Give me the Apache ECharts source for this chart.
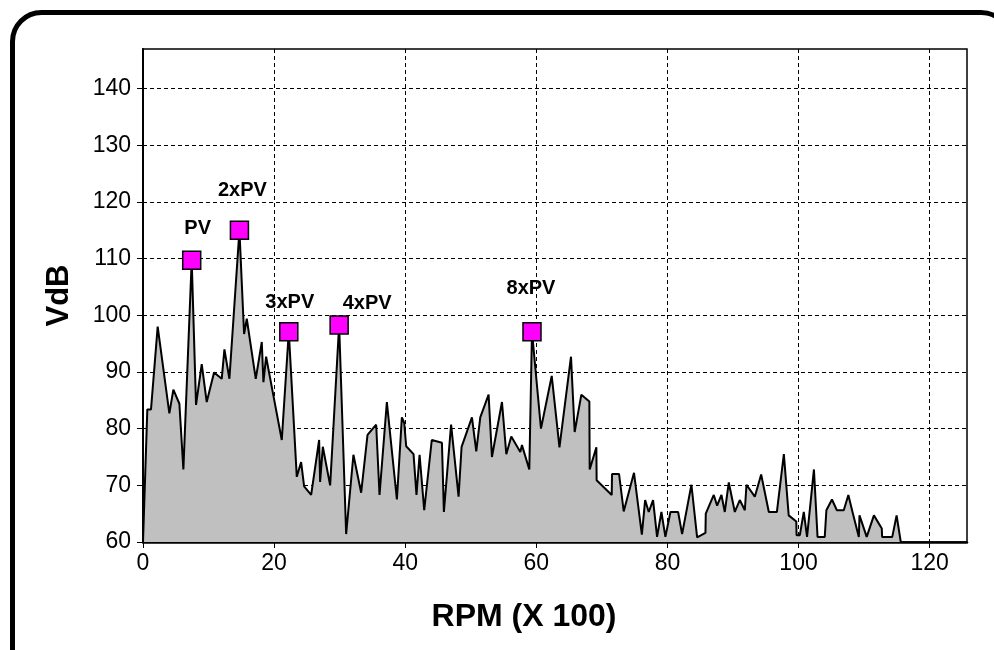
<!DOCTYPE html>
<html>
<head>
<meta charset="utf-8">
<title>Vibration spectrum</title>
<script src="https://cdn.jsdelivr.net/npm/echarts@6/dist/echarts.min.js"></script>
<style>
  html, body { margin: 0; padding: 0; background: #ffffff; }
  #chart { width: 994px; height: 650px; }
</style>
</head>
<body>
<div id="chart"></div>
<script>
// Spectrum vertices: running speed (RPM x 100) and velocity level (VdB)
const rpm = [
  0, 0.66, 1.22, 2.24, 4.02, 4.63, 5.55, 6.16, 7.43, 8.09,
  8.96, 9.72, 10.84, 12.01, 12.42, 13.18, 14.71, 15.42, 15.83, 17.2,
  18.12, 18.37, 18.78, 19.8, 21.17, 22.24, 23.46, 24.12, 24.58, 25.65,
  26.87, 27.02, 27.43, 28.55, 29.92, 30.99, 32.1, 33.28, 34.25, 35.57,
  36.08, 37.2, 38.73, 39.49, 39.85, 40.15, 41.27, 41.72, 42.19, 42.9,
  44.05, 45.6, 45.9, 47.0, 48.14, 48.6, 50.18, 50.84, 51.45, 52.72,
  53.23, 54.76, 55.42, 56.18, 57.56, 57.81, 58.93, 59.34, 60.71, 62.35,
  63.53, 65.29, 65.85, 66.87, 68.09, 68.14, 69.16, 69.2, 71.5, 71.55,
  72.62, 73.33, 74.9, 76.1, 76.6, 77.15, 77.81, 78.42, 79.08, 79.69,
  80.46, 81.63, 82.24, 83.66, 84.53, 85.8, 85.85, 87.07, 87.58, 88.24,
  88.75, 89.36, 90.28, 91.04, 91.81, 92.06, 93.33, 94.3, 95.47, 96.7,
  97.76, 98.5, 99.66, 99.7, 100.2, 100.8, 101.3, 102.35, 102.9, 104.0,
  104.25, 105.1, 105.85, 106.9, 107.6, 108.3, 109.2, 109.3, 110.4, 111.5,
  112.7, 112.75, 114.3, 114.96, 115.6
];
const vdb = [
  60, 83.4, 83.4, 98.0, 82.7, 86.9, 84.4, 72.8, 109.7, 84.2,
  91.4, 84.7, 89.9, 88.8, 94.0, 88.8, 115.0, 96.7, 99.4, 88.8,
  95.3, 88.2, 92.7, 86.4, 78.0, 97.1, 71.5, 74.1, 69.8, 68.3,
  78.0, 70.6, 76.8, 70.0, 98.3, 61.4, 75.4, 68.7, 78.9, 80.7,
  68.3, 84.7, 67.5, 82.0, 81.0, 76.9, 75.5, 68.3, 75.4, 65.6,
  78.0, 77.5, 65.3, 80.7, 68.0, 76.8, 82.0, 76.0, 82.0, 86.0,
  75.0, 84.7, 75.5, 78.6, 75.9, 77.1, 72.8, 97.1, 80.0, 89.3,
  76.7, 92.7, 79.4, 86.0, 84.8, 72.8, 76.7, 70.9, 68.3, 72.0,
  72.0, 65.4, 72.2, 61.3, 67.4, 65.3, 67.4, 60.9, 65.3, 60.9,
  65.3, 65.3, 61.4, 70.1, 60.8, 61.6, 65.0, 68.3, 66.4, 68.3,
  65.3, 70.5, 65.3, 67.4, 65.6, 70.1, 68.0, 71.9, 65.3, 65.3,
  75.5, 64.7, 63.6, 61.2, 61.2, 65.3, 60.9, 72.8, 60.9, 60.9,
  65.6, 67.5, 65.6, 65.6, 68.3, 65.0, 60.9, 64.7, 60.9, 64.7,
  62.4, 60.9, 60.9, 64.7, 60
];

// Running-speed harmonics picked out on the spectrum
const peakNames = ['PV', '2xPV', '3xPV', '4xPV', '8xPV'];
const peakRpm = [7.43, 14.71, 22.24, 29.92, 59.34];
const peakVdb = [109.7, 115.0, 97.1, 98.3, 97.1];

// Axis tick labels
const xTicks = [0, 20, 40, 60, 80, 100, 120];
const yTicks = [60, 70, 80, 90, 100, 110, 120, 130, 140];

// Where each harmonic caption sits relative to its marker
const captionOffsets = [[6, -32], [3, -40], [1, -29], [28, -21], [-1, -43]];

const chart = echarts.init(document.getElementById('chart'), null, { renderer: 'canvas' });

const spectrum = rpm.map((r, i) => [r, vdb[i]]);
const peaks = peakRpm.map((r, i) => ({
  name: peakNames[i],
  value: [r, peakVdb[i]],
  label: { offset: captionOffsets[i] }
}));

const FONT = 'Liberation Sans, Arial, sans-serif';
const dashed = { color: '#000', width: 1, type: [4, 3] };
const tickFont = { fontFamily: FONT, fontSize: 23, color: '#000' };

chart.setOption({
  animation: false,
  backgroundColor: '#ffffff',
  graphic: [
    {
      // rounded outer frame, running past the right and bottom edges
      type: 'rect',
      shape: { x: 12.5, y: 12.5, width: 997.5, height: 700, r: 29 },
      style: { fill: 'none', stroke: '#000', lineWidth: 5 },
      silent: true,
      z: 100
    },
    {
      // horizontal axis title
      type: 'text',
      x: 524, y: 617,
      style: {
        text: 'RPM (X 100)',
        font: 'bold 32px ' + FONT,
        fill: '#000',
        align: 'center',
        verticalAlign: 'middle'
      },
      silent: true
    }
  ],
  grid: {
    left: 143, top: 49, right: 27, bottom: 108,
    show: true, borderColor: '#000', borderWidth: 1.5, backgroundColor: 'transparent'
  },
  xAxis: {
    type: 'value',
    min: 0, max: 125.7, interval: 20,
    axisLine: { show: true, onZero: false, lineStyle: { color: '#000', width: 2.5 } },
    axisTick: { show: true, length: 6, inside: false, customValues: xTicks, lineStyle: { color: '#000', width: 1 } },
    axisLabel: Object.assign({ margin: 10, customValues: xTicks }, tickFont),
    splitLine: { show: true, lineStyle: dashed }
  },
  yAxis: {
    type: 'value',
    min: 60, max: 147, interval: 10,
    name: 'VdB',
    nameLocation: 'middle',
    nameRotate: 90,
    nameGap: 68,
    nameTextStyle: { fontFamily: FONT, fontSize: 31, fontWeight: 'bold', color: '#000' },
    axisLine: { show: true, onZero: false, lineStyle: { color: '#000', width: 2 } },
    axisTick: { show: true, length: 6, inside: false, customValues: yTicks, lineStyle: { color: '#000', width: 1 } },
    axisLabel: Object.assign({ margin: 12, customValues: yTicks }, tickFont),
    splitLine: { show: true, lineStyle: dashed }
  },
  series: [
    {
      type: 'line',
      data: spectrum,
      symbol: 'none',
      sampling: null,
      lineStyle: { color: '#000', width: 2 },
      areaStyle: { color: '#c0c0c0', opacity: 1, origin: 'start' },
      z: 3
    },
    {
      type: 'scatter',
      data: peaks,
      symbol: 'rect',
      symbolSize: 18,
      itemStyle: { color: '#ff00ff', borderColor: '#000', borderWidth: 1.5, opacity: 1 },
      label: {
        show: true,
        position: 'inside',
        formatter: p => p.name,
        fontFamily: FONT,
        fontSize: 20,
        fontWeight: 'bold',
        color: '#000'
      },
      z: 5
    }
  ]
});
</script>
</body>
</html>
